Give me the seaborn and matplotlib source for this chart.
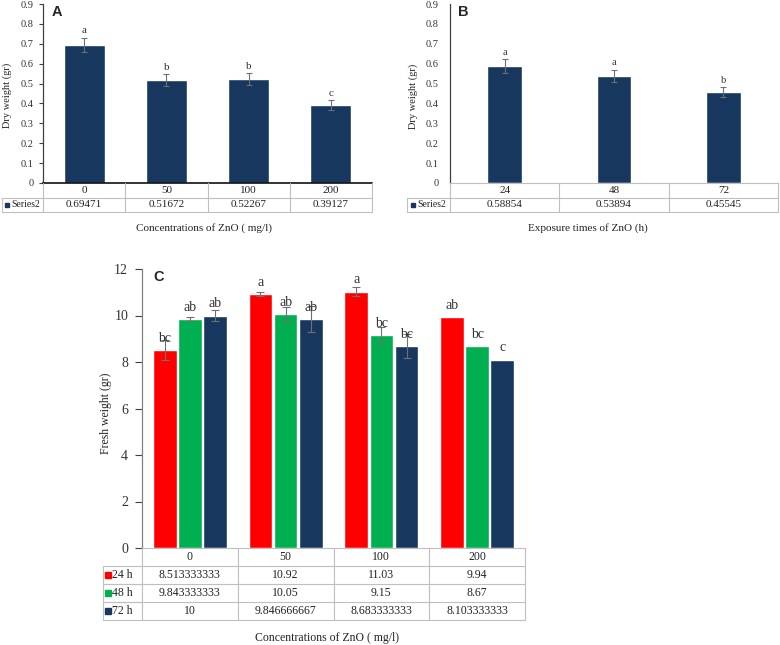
import numpy as np
import pandas as pd
import matplotlib
matplotlib.use("Agg")
import matplotlib.pyplot as plt
from matplotlib.ticker import FuncFormatter, FixedLocator
import seaborn as sns

# ---------------- data ----------------
conc = ["0", "50", "100", "200"]
dry_conc = [0.69471, 0.51672, 0.52267, 0.39127]
dry_conc_err = [0.035, 0.03, 0.03, 0.025]
dry_conc_letters = ["a", "b", "b", "c"]

times = ["24", "48", "72"]
dry_time = [0.58854, 0.53894, 0.45545]
dry_time_err = [0.033, 0.03, 0.025]
dry_time_letters = ["a", "a", "b"]

series_name = "Series2"
fresh_series = ["24 h", "48 h", "72 h"]
fresh_24 = [8.513333333, 10.92, 11.03, 9.94]
fresh_48 = [9.843333333, 10.05, 9.15, 8.67]
fresh_72 = [10, 9.846666667, 8.683333333, 8.103333333]
fresh_24_err = [0.42, 0.1, 0.2, 0.0]
fresh_48_err = [0.08, 0.3, 0.35, 0.0]
fresh_72_err = [0.25, 0.57, 0.5, 0.0]
fresh_24_letters = ["bc", "a", "a", "ab"]
fresh_48_letters = ["ab", "ab", "bc", "bc"]
fresh_72_letters = ["ab", "ab", "bc", "c"]

dry_ticks = [0, 0.1, 0.2, 0.3, 0.4, 0.5, 0.6, 0.7, 0.8, 0.9]
fresh_ticks = [0, 2, 4, 6, 8, 10, 12]

# ---------------- style ----------------
sns.set_style("white")
plt.rcParams["font.family"] = ["Liberation Serif", "DejaVu Serif"]
RED, GREEN, NAVY = "#FF0000", "#00B050", "#17375E"
GRID = "#BFBFBF"
AXC = "#404040"
ERRC = "#707070"

W, H = 780, 645
fig = plt.figure(figsize=(W / 100, H / 100), dpi=100)


def px_axes(x0, y0, x1, y1):
    return fig.add_axes([x0 / W, 1 - y1 / H, (x1 - x0) / W, (y1 - y0) / H])


def style_main(ax, ticks, fs, fmt, bottom_color, pad):
    ax.set_xlabel("")
    ax.set_ylabel("")
    ax.set_xticks([])
    for s in ["top", "right"]:
        ax.spines[s].set_visible(False)
    ax.spines["left"].set_color(AXC)
    ax.spines["left"].set_linewidth(0.9)
    ax.spines["bottom"].set_color(bottom_color)
    ax.spines["bottom"].set_linewidth(1.2 if bottom_color != GRID else 0.8)
    ax.yaxis.set_major_locator(FixedLocator(ticks))
    ax.yaxis.set_major_formatter(FuncFormatter(fmt))
    ax.set_ylim(ticks[0], ticks[-1])
    ax.tick_params(axis="y", which="both", left=True, direction="out", length=3,
                   width=0.8, color=AXC, labelsize=fs, labelcolor="#333333", pad=pad)


def draw_table(ax, xaxis_px, x0_px, x1_px, header, rows, fs, lab_fs, sq):
    """rows: list of (label, color, texts)"""
    n = len(header)
    unit = (x1_px - xaxis_px) / n
    left = -0.5 - (xaxis_px - x0_px) / unit
    nr = 1 + len(rows)
    ax.set_xlim(left, n - 0.5)
    ax.set_ylim(nr, 0)
    ax.axis("off")
    lw = 0.8
    ax.plot([-0.5, n - 0.5], [1, 1], color=GRID, lw=lw, clip_on=False)
    for k in range(n + 1):
        ax.plot([k - 0.5, k - 0.5], [0, nr], color=GRID, lw=lw, clip_on=False)
    for k, h in enumerate(header):
        ax.text(k, 0.5, h, ha="center", va="center", fontsize=fs, color="#222222")
    for r, (lab, col, texts) in enumerate(rows):
        y0 = 1 + r
        ax.plot([left, n - 0.5], [y0 + 1, y0 + 1], color=GRID, lw=lw, clip_on=False)
        ax.plot([left, -0.5], [y0, y0], color=GRID, lw=lw, clip_on=False)
        ax.plot([left, left], [y0, y0 + 1], color=GRID, lw=lw, clip_on=False)
        lw_unit = -0.5 - left
        ax.plot([left + 0.13 * lw_unit], [y0 + 0.5], marker="s", color=col,
                ms=sq, clip_on=False)
        ax.text(left + 0.23 * lw_unit, y0 + 0.5, lab, ha="left", va="center",
                fontsize=lab_fs, color="#222222")
        for k, t in enumerate(texts):
            ax.text(k, y0 + 0.5, t, ha="center", va="center", fontsize=fs,
                    color="#222222")


def add_errorbars(ax, xs, vals, errs, capsize):
    pts = [(x, v, e) for x, v, e in zip(xs, vals, errs) if e > 0]
    if pts:
        px, pv, pe = zip(*pts)
        ax.errorbar(px, pv, yerr=pe, fmt="none", ecolor=ERRC, elinewidth=0.8,
                    capsize=capsize, capthick=0.8)


fmt_dry = lambda v, _: "0" if abs(v) < 1e-9 else f"{v:.1f}"
fmt_fresh = lambda v, _: f"{v:g}"

# ---------------- panel A ----------------
axA = px_axes(43, 4, 372, 183)
dfA = pd.DataFrame({"conc": conc, "dry": dry_conc})
sns.barplot(data=dfA, x="conc", y="dry", color=NAVY, width=0.5, errorbar=None,
            saturation=1, ax=axA)
style_main(axA, dry_ticks, 7.5, fmt_dry, "#111111", 4)
xs = [p.get_x() + p.get_width() / 2 for p in axA.patches]
add_errorbars(axA, xs, dry_conc, dry_conc_err, 2)
for x, v, e, l in zip(xs, dry_conc, dry_conc_err, dry_conc_letters):
    axA.text(x, v + e + 0.035, l, ha="center", va="center", fontsize=8,
             color="#333333")
axA.set_xlim(-0.5, len(conc) - 0.5)
tA = px_axes(2, 183, 372, 212)
draw_table(tA, 43, 2, 372, conc,
           [(series_name, NAVY, [str(v) for v in dry_conc])], 8, 7, 3.5)
fig.text(204 / W, 1 - 228 / H, "Concentrations of ZnO ( mg/l)", ha="center",
         va="center", fontsize=8, color="#222222")
fig.text(7 / W, 1 - 95 / H, "Dry weight (gr)", ha="center", va="center",
         rotation=90, fontsize=7.5, color="#222222")
fig.text(52 / W, 1 - 12 / H, "A", ha="left", va="center", fontsize=10.5,
         fontweight="bold", family="Liberation Sans")

# ---------------- panel B ----------------
axB = px_axes(450, 4, 778, 183)
dfB = pd.DataFrame({"time": times, "dry": dry_time})
sns.barplot(data=dfB, x="time", y="dry", color=NAVY, width=0.32, errorbar=None,
            saturation=1, ax=axB)
style_main(axB, dry_ticks, 7.5, fmt_dry, GRID, 8)
axB.tick_params(axis="y", length=0)
xs = [p.get_x() + p.get_width() / 2 for p in axB.patches]
add_errorbars(axB, xs, dry_time, dry_time_err, 2)
for x, v, e, l in zip(xs, dry_time, dry_time_err, dry_time_letters):
    axB.text(x, v + e + 0.035, l, ha="center", va="center", fontsize=7.5,
             color="#333333")
axB.set_xlim(-0.5, len(times) - 0.5)
tB = px_axes(407, 183, 778, 212)
draw_table(tB, 450, 407, 778, times,
           [(series_name, NAVY, [str(v) for v in dry_time])], 8, 7, 3.5)
fig.text(588 / W, 1 - 228 / H, "Exposure times of ZnO (h)", ha="center",
         va="center", fontsize=8, color="#222222")
fig.text(413 / W, 1 - 96 / H, "Dry weight (gr)", ha="center", va="center",
         rotation=90, fontsize=7.5, color="#222222")
fig.text(458 / W, 1 - 12 / H, "B", ha="left", va="center", fontsize=10.5,
         fontweight="bold", family="Liberation Sans")

# ---------------- panel C ----------------
axC = px_axes(142, 269, 525, 548)
dfC = pd.DataFrame({
    "conc": conc * 3,
    "series": sum([[s] * len(conc) for s in fresh_series], []),
    "value": fresh_24 + fresh_48 + fresh_72,
})
sns.barplot(data=dfC, x="conc", y="value", hue="series", hue_order=fresh_series,
            palette=[RED, GREEN, NAVY], width=0.79, gap=0.06, errorbar=None,
            saturation=1, legend=False, ax=axC)
style_main(axC, fresh_ticks, 10, fmt_fresh, GRID, 5)
axC.tick_params(axis="y", length=5)
axC.spines["left"].set_color("#808080")
for cont, vals, errs, lets in zip(axC.containers,
                                  [fresh_24, fresh_48, fresh_72],
                                  [fresh_24_err, fresh_48_err, fresh_72_err],
                                  [fresh_24_letters, fresh_48_letters, fresh_72_letters]):
    xs = [p.get_x() + p.get_width() / 2 for p in cont.patches]
    add_errorbars(axC, xs, vals, errs, 3)
    for x, v, l in zip(xs, vals, lets):
        axC.text(x, v + 0.5, l, ha="center", va="center", fontsize=10,
                 color="#333333")
axC.set_xlim(-0.5, len(conc) - 0.5)
tC = px_axes(103, 548, 525, 620)
draw_table(tC, 142, 103, 525, conc,
           [(s, c, [str(v) for v in vals]) for s, c, vals in
            zip(fresh_series, [RED, GREEN, NAVY], [fresh_24, fresh_48, fresh_72])],
           8.5, 8.5, 5)
fig.text(327 / W, 1 - 638 / H, "Concentrations of ZnO ( mg/l)", ha="center",
         va="center", fontsize=8.5, color="#222222")
fig.text(106 / W, 1 - 413 / H, "Fresh weight (gr)", ha="center", va="center",
         rotation=90, fontsize=8.5, color="#222222")
fig.text(153 / W, 1 - 277 / H, "C", ha="left", va="center", fontsize=10.5,
         fontweight="bold", family="Liberation Sans")

fig.savefig("out.png", dpi=100)
